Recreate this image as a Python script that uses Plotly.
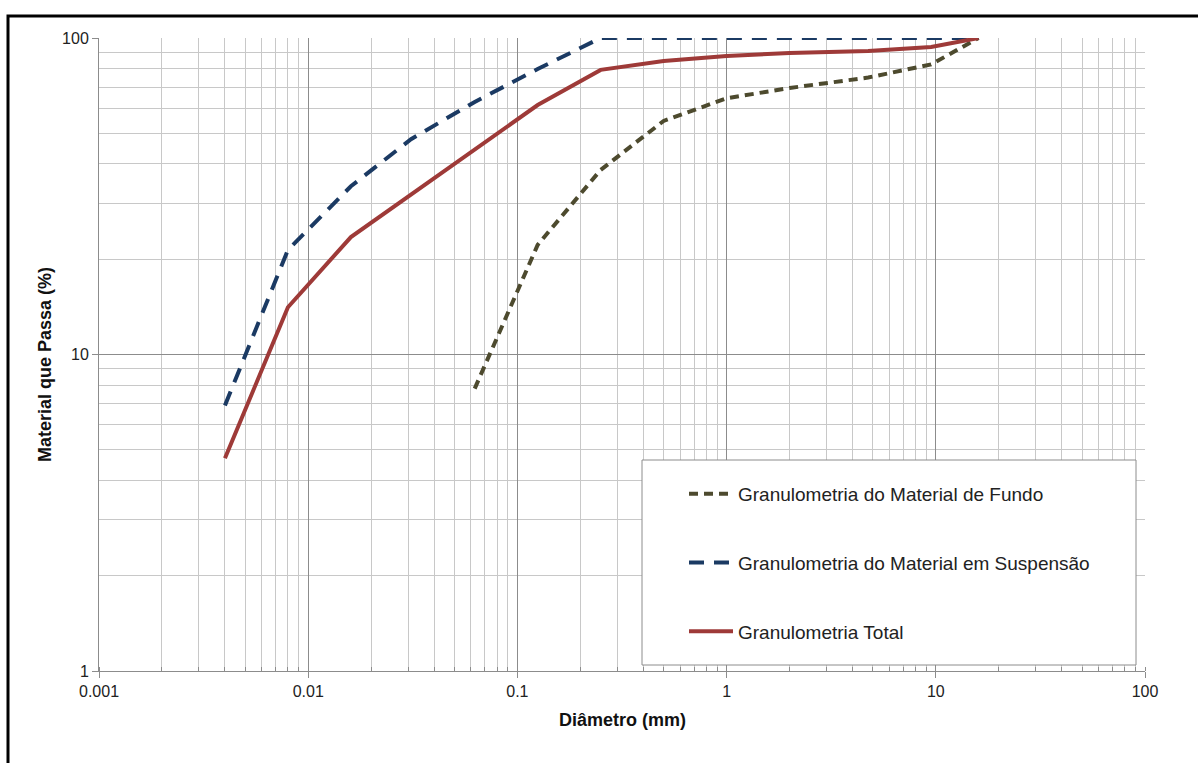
import plotly.graph_objects as go

# Data
fundo_x = [0.0625, 0.125, 0.25, 0.5, 1, 2, 4.75, 9.5, 16]
fundo_y = [7.8, 22.2, 38.3, 54.7, 64.5, 69.5, 75.0, 82.5, 100]

susp_x = [0.004, 0.008, 0.016, 0.031, 0.0625, 0.125, 0.25, 1, 2, 4.75, 9.5, 16]
susp_y = [6.9, 21.4, 34.0, 47.9, 62.8, 79.8, 100, 100, 100, 100, 100, 100]

total_x = [0.004, 0.008, 0.016, 0.125, 0.25, 0.5, 1, 2, 4.75, 9.5, 16]
total_y = [4.7, 14.1, 23.5, 61.4, 79.3, 84.6, 87.7, 89.7, 91.0, 93.7, 100]

names = ["Granulometria do Material de Fundo",
         "Granulometria do Material em Suspensão",
         "Granulometria Total"]

x_ticks = [0.001, 0.01, 0.1, 1, 10, 100]
x_ticktext = ["0.001", "0.01", "0.1", "1", "10", "100"]
y_ticks = [1, 10, 100]
y_ticktext = ["1", "10", "100"]

x_title = "Diâmetro (mm)"
y_title = "Material que Passa (%)"

fig = go.Figure()
fig.add_trace(go.Scatter(x=fundo_x, y=fundo_y, mode="lines", name=names[0],
                         line=dict(color="#4d4a2e", width=4, dash="9px,6px"),
                         legendgroup="a"))
fig.add_trace(go.Scatter(x=susp_x, y=susp_y, mode="lines", name=names[1],
                         line=dict(color="#1b3a63", width=4, dash="15px,10px"),
                         legendgroup="b"))
fig.add_trace(go.Scatter(x=total_x, y=total_y, mode="lines", name=names[2],
                         line=dict(color="#9e3a38", width=4),
                         legendgroup="c"))

L, R, T, B = 99, 53, 38, 92
W, H = 1198, 763
pw, ph = W - L - R, H - T - B

def px_x(p):
    return (p - L) / pw

def px_y(p):
    return (H - B - p) / ph

font = "Liberation Sans, Arial, sans-serif"

fig.update_layout(
    width=W, height=H,
    margin=dict(l=L, r=R, t=T, b=B),
    paper_bgcolor="white", plot_bgcolor="white",
    font=dict(family=font, size=16, color="#222"),
    showlegend=True,
    legend=dict(x=px_x(684), y=px_y(475), xanchor="left", yanchor="top",
                bgcolor="rgba(0,0,0,0)", borderwidth=0,
                font=dict(family=font, size=19, color="#222"),
                tracegroupgap=41, itemwidth=44),
    xaxis=dict(type="log", range=[-3, 2], tickvals=x_ticks, ticktext=x_ticktext,
               tickfont=dict(size=16, color="#222"),
               showgrid=True, gridcolor="#8c8c8c", gridwidth=1,
               minor=dict(dtick="D1", showgrid=True, gridcolor="#c8c8c8", gridwidth=1,
                          ticks="inside", ticklen=4, tickcolor="#8c8c8c"),
               showline=True, linecolor="#8c8c8c", linewidth=1,
               ticks="outside", ticklen=6, tickcolor="#8c8c8c",
               zeroline=False, mirror=False),
    yaxis=dict(type="log", range=[0, 2], tickvals=y_ticks, ticktext=y_ticktext,
               tickfont=dict(size=16, color="#222"),
               showgrid=True, gridcolor="#8c8c8c", gridwidth=1,
               minor=dict(dtick="D1", showgrid=True, gridcolor="#c8c8c8", gridwidth=1),
               showline=True, linecolor="#8c8c8c", linewidth=1,
               ticks="outside", ticklen=6, tickcolor="#8c8c8c",
               zeroline=False),
    annotations=[
        dict(text="<b>" + x_title + "</b>", xref="paper", yref="paper",
             x=px_x(622), y=px_y(720), xanchor="center", yanchor="middle",
             showarrow=False, font=dict(family=font, size=18, color="#111")),
        dict(text="<b>" + y_title + "</b>", xref="paper", yref="paper",
             x=px_x(45), y=px_y(365), xanchor="center", yanchor="middle",
             textangle=-90, showarrow=False, font=dict(family=font, size=18, color="#111")),
    ],
    shapes=[
        # legend box
        dict(type="rect", xref="paper", yref="paper",
             x0=px_x(642), x1=px_x(1136), y0=px_y(665), y1=px_y(460),
             fillcolor="white", line=dict(color="#8c8c8c", width=1), layer="above"),
        # outer chart frame
        dict(type="rect", xref="paper", yref="paper",
             x0=px_x(8), x1=px_x(1210), y0=px_y(780), y1=px_y(16),
             fillcolor="rgba(0,0,0,0)", line=dict(color="black", width=3), layer="above"),
    ],
)

fig.write_html("out.html")
